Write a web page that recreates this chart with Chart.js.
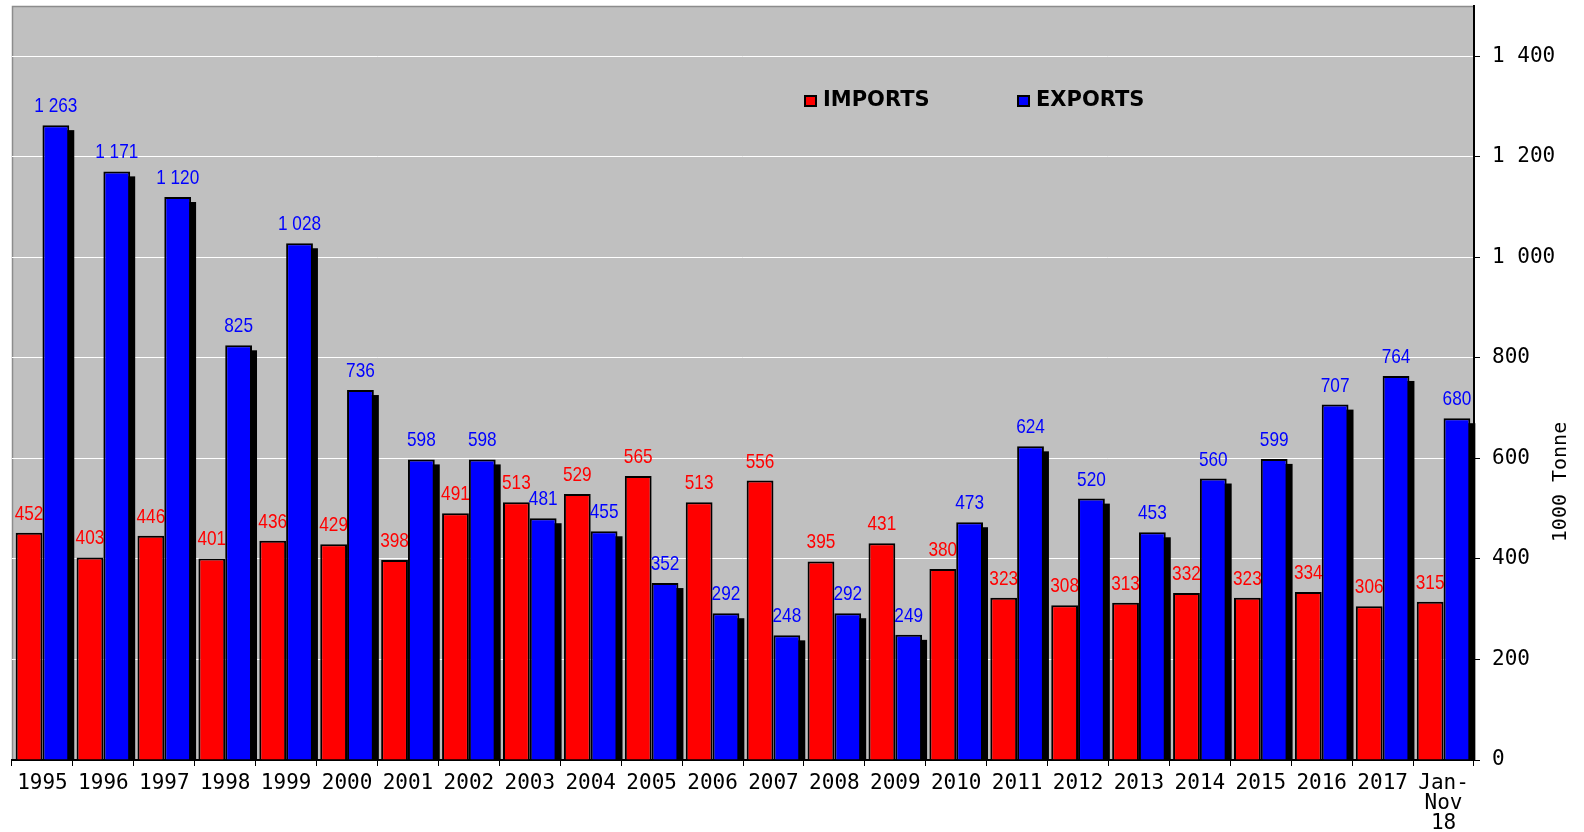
<!DOCTYPE html>
<html>
<head>
<meta charset="utf-8">
<script src="https://cdn.jsdelivr.net/npm/chart.js@4/dist/chart.umd.min.js"></script>
<style>
  html, body { margin: 0; padding: 0; background: #ffffff; }
  #wrap { width: 1584px; height: 832px; position: relative; }
</style>
</head>
<body>
<div id="wrap"><canvas id="c" width="1584" height="832"></canvas></div>
<script>
const categories = ['1995','1996','1997','1998','1999','2000','2001','2002','2003','2004','2005','2006','2007','2008','2009','2010','2011','2012','2013','2014','2015','2016','2017',['Jan-','Nov','18']];
const imports = [452,403,446,401,436,429,398,491,513,529,565,513,556,395,431,380,323,308,313,332,323,334,306,315];
const exports = [1263,1171,1120,825,1028,736,598,598,481,455,352,292,248,292,249,473,624,520,453,560,599,707,764,680];
const seriesNames = ['IMPORTS','EXPORTS'];
const seriesColors = ['#ff0000','#0000ff'];
const yAxisTitle = '1000 Tonne';
const yMin = 0, yMax = 1500, yStep = 200, yLastTick = 1400;

function fmt(v) {
  const s = String(Math.round(v));
  return s.length > 3 ? s.slice(0, s.length - 3) + ' ' + s.slice(-3) : s;
}

const monoFont = 'DejaVu Sans Mono';
const labelFont = '"Liberation Sans", Arial, sans-serif';

function drawValueLabels(chart, index) {
  const ctx = chart.ctx;
  const ds = chart.data.datasets[index];
  const meta = chart.getDatasetMeta(index);
  ctx.save();
  ctx.font = '21px ' + labelFont;
  ctx.fillStyle = ds.backgroundColor;
  ctx.textAlign = 'center';
  ctx.textBaseline = 'alphabetic';
  meta.data.forEach((bar, i) => {
    ctx.save();
    ctx.translate(bar.x, bar.y - 13);
    ctx.scale(0.82, 1);
    ctx.fillText(fmt(ds.data[i]), 0, 0);
    ctx.restore();
  });
  ctx.restore();
}

const bgPlugin = {
  id: 'plotBg',
  beforeDraw(chart) {
    const {ctx, chartArea: a} = chart;
    ctx.save();
    ctx.fillStyle = '#c0c0c0';
    ctx.fillRect(a.left, a.top, a.right - a.left, a.bottom - a.top);
    ctx.strokeStyle = '#8c8c8c';
    ctx.lineWidth = 1.5;
    ctx.beginPath();
    ctx.moveTo(a.left + 0.5, a.bottom);
    ctx.lineTo(a.left + 0.5, a.top + 0.5);
    ctx.lineTo(a.right, a.top + 0.5);
    ctx.stroke();
    ctx.restore();
  }
};

// Imports bars are drawn by Chart.js as usual; their value labels follow,
// then the exports bars (with a drop shadow) are drawn on top, then their labels.
const layerPlugin = {
  id: 'layers',
  beforeDatasetDraw(chart, args) {
    if (chart.data.datasets[args.index].shadow) return false;
  },
  afterDatasetsDraw(chart) {
    const ctx = chart.ctx;
    const a = chart.chartArea;
    chart.data.datasets.forEach((ds, i) => {
      if (!ds.shadow) drawValueLabels(chart, i);
    });
    chart.data.datasets.forEach((ds, i) => {
      if (!ds.shadow) return;
      const meta = chart.getDatasetMeta(i);
      ctx.save();
      ctx.beginPath();
      ctx.rect(a.left, a.top, a.right - a.left + 10, a.bottom - a.top);
      ctx.clip();
      ctx.fillStyle = '#000000';
      meta.data.forEach((el) => {
        const p = el.getProps(['x', 'y', 'base', 'width'], true);
        const left = p.x - p.width / 2;
        ctx.fillRect(left + 5, p.y + 5, p.width, p.base - p.y);
      });
      meta.controller.draw();
      ctx.restore();
      drawValueLabels(chart, i);
    });
  }
};

const legendTitlePlugin = {
  id: 'legendTitle',
  afterDraw(chart) {
    const ctx = chart.ctx;
    ctx.save();
    const items = [{x: 804}, {x: 1017}];
    chart.data.datasets.forEach((ds, i) => {
      const bx = items[i].x, by = 95;
      ctx.fillStyle = '#000';
      ctx.fillRect(bx, by, 13, 12);
      ctx.fillStyle = ds.backgroundColor;
      ctx.fillRect(bx + 2, by + 2, 9, 8);
      ctx.fillStyle = '#000';
      ctx.font = 'bold 21px "DejaVu Sans"';
      ctx.textBaseline = 'middle';
      ctx.textAlign = 'left';
      ctx.fillText(ds.label, bx + 19, by + 6);
    });
    // y-axis title (reads bottom to top)
    ctx.translate(1561, 482);
    ctx.rotate(-Math.PI / 2);
    ctx.font = '20px ' + monoFont;
    ctx.fillStyle = '#000';
    ctx.textAlign = 'center';
    ctx.textBaseline = 'middle';
    ctx.fillText(yAxisTitle, 0, 0);
    ctx.restore();
  }
};

new Chart(document.getElementById('c'), {
  type: 'bar',
  data: {
    labels: categories,
    datasets: [
      { label: seriesNames[0], data: imports, backgroundColor: seriesColors[0], borderColor: '#000', borderWidth: 2, shadow: false },
      { label: seriesNames[1], data: exports, backgroundColor: seriesColors[1], borderColor: '#000', borderWidth: 2, shadow: true }
    ]
  },
  options: {
    responsive: false,
    animation: false,
    layout: { padding: { left: 12, top: 6, right: 0, bottom: 0 } },
    datasets: { bar: { categoryPercentage: 0.88, barPercentage: 1.0 } },
    plugins: { legend: { display: false }, tooltip: { enabled: false } },
    scales: {
      x: {
        position: 'bottom',
        offset: true,
        grid: { offset: true, drawOnChartArea: false, tickLength: 6, tickColor: '#000', tickWidth: 1 },
        border: { color: '#000', width: 2 },
        ticks: { color: '#000', font: { family: monoFont, size: 21, lineHeight: '20px' }, maxRotation: 0, autoSkip: false, padding: 8 },
        afterFit(s) { s.height = 72; s.paddingLeft = 0; s.paddingRight = 0; }
      },
      y: {
        position: 'right',
        min: yMin, max: yMax,
        grid: {
          color: (c) => (c.tick && c.tick.value === 0) ? 'rgba(0,0,0,0)' : '#ffffff',
          lineWidth: 1, tickLength: 6, tickColor: '#000', tickWidth: 1
        },
        border: { color: '#000', width: 2 },
        ticks: { stepSize: yStep, padding: 12, color: '#000', font: { family: monoFont, size: 21 }, callback: (v) => fmt(v) },
        afterBuildTicks(s) { s.ticks = s.ticks.filter(t => t.value <= yLastTick); },
        afterFit(s) { s.width = 110; s.paddingTop = 0; s.paddingBottom = 0; }
      }
    }
  },
  plugins: [bgPlugin, layerPlugin, legendTitlePlugin]
});
</script>
</body>
</html>
